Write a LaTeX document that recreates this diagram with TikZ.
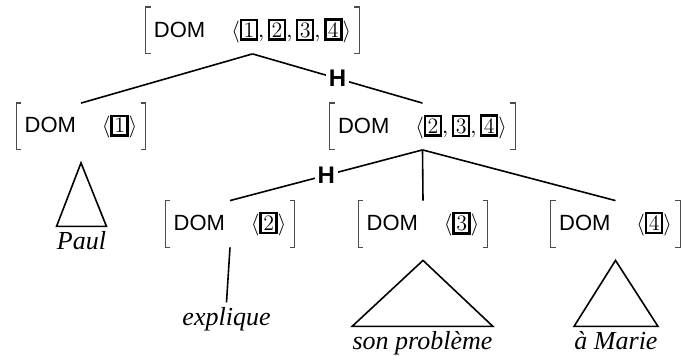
\documentclass[tikz,border=0pt]{standalone}
\usepackage{fontspec}
\setsansfont{Liberation Sans}
\newfontfamily\leaffont{Liberation Serif}
\usetikzlibrary{positioning}

\setlength{\fboxsep}{0.7pt}
\setlength{\fboxrule}{1.2pt}
\newcommand{\tagbox}[1]{\fbox{\fontsize{11}{13}\selectfont #1}}
\newcommand{\domavm}[1]{\textsf{DOM}\hspace{13pt}$\bigl\langle #1\bigr\rangle$}

\tikzset{
  avm/.style={inner xsep=4pt, inner ysep=0pt, minimum height=23pt, font=\fontsize{11}{13}\selectfont},
  leaf/.style={inner xsep=0pt, inner ysep=2.6pt, anchor=base, font=\leaffont\itshape\fontsize{13}{15}\selectfont},
  head/.style={midway, fill=white, inner sep=1.5pt, font=\sffamily\bfseries\fontsize{12}{14}\selectfont},
  bracket/.style={gray!60!black, line width=0.6pt},
  edge/.style={line width=0.8pt},
}

\begin{document}
\begin{tikzpicture}[x=0.5pt, y=-0.5pt]
  \useasboundingbox (0,0) rectangle (683,356);
  % feature structures
  \node[avm] (dom-top) at (252.5,30.5) {\domavm{\tagbox{1},\tagbox{2},\tagbox{3},\tagbox{4}}};
  \node[avm] (dom-paul) at (81,126.5) {\domavm{\tagbox{1}}};
  \node[avm] (dom-rest) at (422.5,126.5) {\domavm{\tagbox{2},\tagbox{3},\tagbox{4}}};
  \node[avm] (dom-expl) at (230,224) {\domavm{\tagbox{2}}};
  \node[avm] (dom-prob) at (423,224) {\domavm{\tagbox{3}}};
  \node[avm] (dom-marie) at (615.5,224) {\domavm{\tagbox{4}}};
  \foreach \n in {dom-top,dom-paul,dom-rest,dom-expl,dom-prob,dom-marie} {
    \draw[bracket] ([xshift=2.5pt]\n.north west) -- (\n.north west) -- (\n.south west) -- ([xshift=2.5pt]\n.south west);
    \draw[bracket] ([xshift=-2.5pt]\n.north east) -- (\n.north east) -- (\n.south east) -- ([xshift=-2.5pt]\n.south east);
  }
  % words
  \node[leaf] (w-paul) at (81.5,250) {Paul};
  \node[leaf] (w-expl) at (226.5,326) {explique};
  \node[leaf] (w-prob) at (422.5,350) {son problème};
  \node[leaf] (w-marie) at (616,350) {à Marie};
  % branches
  \draw[edge] (dom-top.south) -- (dom-paul.north);
  \draw[edge] (dom-top.south) -- (dom-rest.north) node[head] {H};
  \draw[edge] (dom-rest.south) -- (dom-expl.north) node[head] {H};
  \draw[edge] (dom-rest.south) -- (dom-prob.north);
  \draw[edge] (dom-rest.south) -- (dom-marie.north);
  \draw[edge] (dom-expl.south) -- (w-expl.north);
  % triangles
  \coordinate[below=6.5pt of dom-paul] (paul-apex);
  \coordinate[below=6.5pt of dom-prob] (prob-apex);
  \coordinate[below=6.5pt of dom-marie] (marie-apex);
  \draw[edge] (paul-apex) -- (w-paul.north west) -- (w-paul.north east) -- cycle;
  \draw[edge] (prob-apex) -- (w-prob.north west) -- (w-prob.north east) -- cycle;
  \draw[edge] (marie-apex) -- (w-marie.north west) -- (w-marie.north east) -- cycle;
\end{tikzpicture}
\end{document}
